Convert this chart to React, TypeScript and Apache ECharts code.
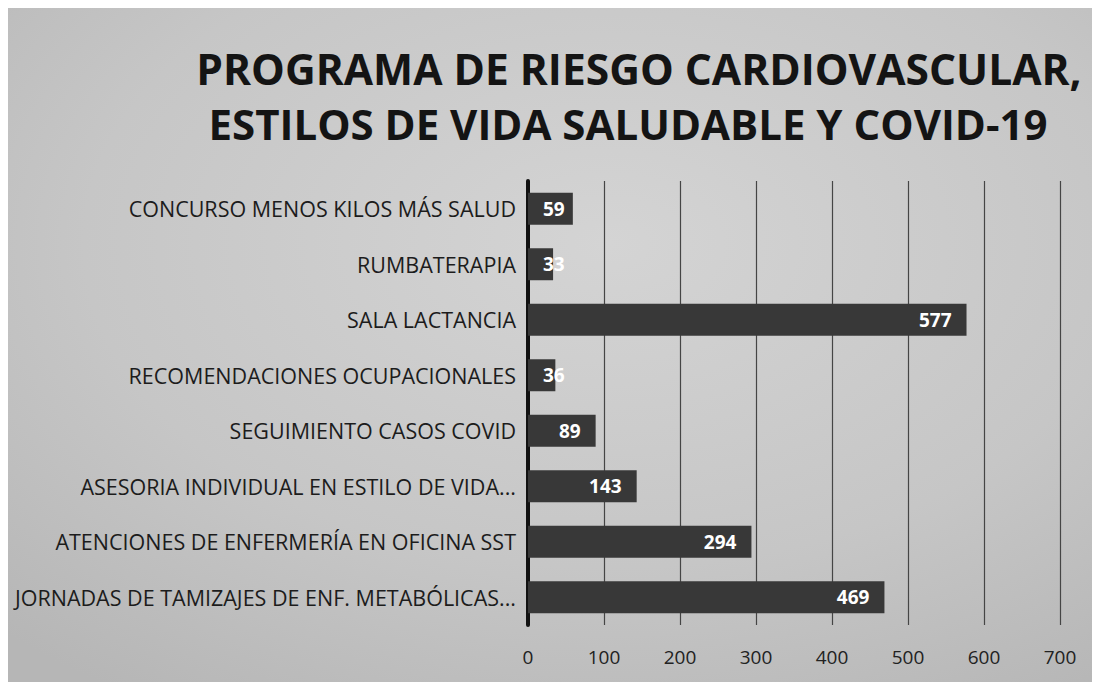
import React, { useEffect, useRef } from "react";
import * as echarts from "echarts";

const titleLines = [
  "PROGRAMA DE RIESGO CARDIOVASCULAR,",
  "ESTILOS DE VIDA SALUDABLE Y COVID-19",
];

const categories = [
  "CONCURSO MENOS KILOS MÁS SALUD",
  "RUMBATERAPIA",
  "SALA LACTANCIA",
  "RECOMENDACIONES OCUPACIONALES",
  "SEGUIMIENTO CASOS COVID",
  "ASESORIA INDIVIDUAL EN ESTILO DE VIDA...",
  "ATENCIONES DE ENFERMERÍA EN OFICINA SST",
  "JORNADAS DE TAMIZAJES DE ENF. METABÓLICAS...",
];

const values = [59, 33, 577, 36, 89, 143, 294, 469];

const xMin = 0;
const xMax = 700;
const xInterval = 100;

export default function App() {
  const ref = useRef<HTMLDivElement>(null);

  useEffect(() => {
    document.documentElement.style.overflow = "hidden";
    const chart = echarts.init(ref.current!, null, { renderer: "svg" });
    const font = '"Open Sans", "DejaVu Sans", sans-serif';
    chart.setOption({
      animation: false,
      backgroundColor: {
        type: "radial",
        x: 0.55,
        y: 0.35,
        r: 0.8,
        colorStops: [
          { offset: 0, color: "#d4d4d4" },
          { offset: 0.6, color: "#c6c6c6" },
          { offset: 1, color: "#b6b6b6" },
        ],
      },
      graphic: [
        {
          type: "text",
          x: 631,
          y: 60,
          style: {
            text: titleLines[0],
            fill: "#141414",
            font: `bold 42.5px ${font}`,
            textAlign: "center",
            textVerticalAlign: "middle",
          },
        },
        {
          type: "text",
          x: 620,
          y: 115,
          style: {
            text: titleLines[1],
            fill: "#141414",
            font: `bold 42px ${font}`,
            textAlign: "center",
            textVerticalAlign: "middle",
          },
        },
      ],
      grid: { left: 520, top: 173, width: 532, height: 444, containLabel: false },
      xAxis: {
        type: "value",
        min: xMin,
        max: xMax,
        interval: xInterval,
        axisLine: { show: false },
        axisTick: { show: false },
        splitLine: { show: true, lineStyle: { color: "#454545", width: 1.2 } },
        axisLabel: {
          color: "#222",
          fontFamily: font,
          fontSize: 19,
          margin: 22,
        },
      },
      yAxis: {
        type: "category",
        data: categories,
        inverse: true,
        axisLine: { show: true, lineStyle: { color: "#111", width: 4 } },
        axisTick: { show: false },
        axisLabel: {
          color: "#1c1c1c",
          fontFamily: font,
          fontSize: 21.5,
          margin: 12,
        },
      },
      series: [
        {
          type: "bar",
          barWidth: 32,
          itemStyle: { color: "#383838" },
          data: values.map((v) => ({
            value: v,
            label: {
              position: v < 70 ? "insideLeft" : "insideRight",
            },
          })),
          label: {
            show: true,
            distance: 15,
            color: "#ffffff",
            fontFamily: font,
            fontWeight: "bold",
            fontSize: 19,
          },
        },
      ],
    });
    return () => chart.dispose();
  }, []);

  return <div ref={ref} style={{ width: 1092, height: 674 }} />;
}
